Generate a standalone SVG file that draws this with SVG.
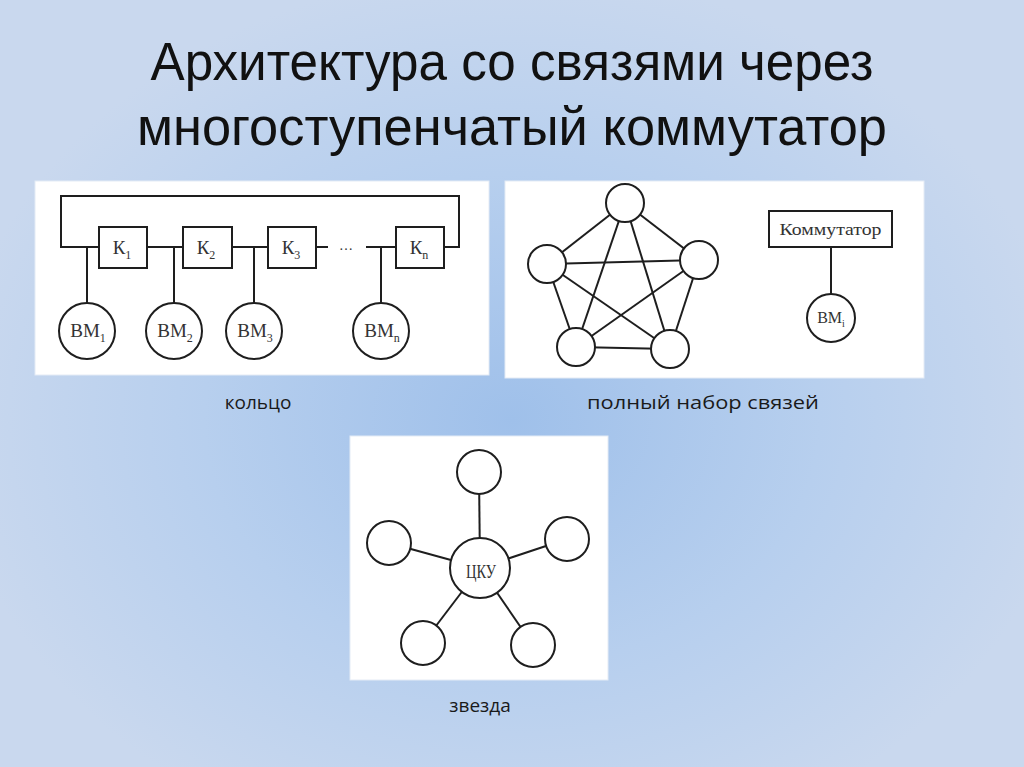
<svg xmlns="http://www.w3.org/2000/svg" width="1024" height="767" viewBox="0 0 1024 767">
<defs>
<radialGradient id="bg" cx="512" cy="420" r="560" gradientUnits="userSpaceOnUse" gradientTransform="translate(512 420) scale(1 0.8) translate(-512 -420)">
<stop offset="0" stop-color="#9fc0ea"/>
<stop offset="0.55" stop-color="#b7cfee"/>
<stop offset="1" stop-color="#c9d8ee"/>
</radialGradient>
<style>
.ln{stroke:#1e1e1e;stroke-width:2;fill:none}
.nd{stroke:#1e1e1e;stroke-width:2;fill:#ffffff}
.panel{fill:#ffffff;stroke:#e4ebf5;stroke-width:1}
.t{font-family:"Liberation Serif","DejaVu Serif",serif;fill:#333;text-anchor:middle}
.lab{font-family:"Open Sans","Noto Sans",sans-serif;font-size:19px;fill:#1a1a1a;text-anchor:middle}
.title{font-family:"Liberation Sans","Arial",sans-serif;font-size:53px;fill:#111;text-anchor:middle}
</style>
</defs>
<rect width="1024" height="767" fill="url(#bg)"/>

<g id="title">
<text class="title" x="512" y="80" textLength="723" lengthAdjust="spacingAndGlyphs">Архитектура со связями через</text>
<text class="title" x="512" y="145" textLength="750" lengthAdjust="spacingAndGlyphs">многоступенчатый коммутатор</text>
</g>

<rect class="panel" x="35" y="181" width="454" height="194"/>
<rect class="panel" x="505" y="181" width="419" height="197"/>
<rect class="panel" x="350" y="436" width="258" height="244"/>

<g id="connectors">
<!-- ring -->
<polyline class="ln" points="99,247 61,247 61,196 459,196 459,247 444,247"/>
<line class="ln" x1="147" y1="247" x2="183" y2="247"/>
<line class="ln" x1="232" y1="247" x2="268" y2="247"/>
<line class="ln" x1="316" y1="247" x2="328" y2="247"/>
<line class="ln" x1="366" y1="247" x2="396" y2="247"/>
<line class="ln" x1="87" y1="247" x2="87" y2="303"/>
<line class="ln" x1="174" y1="247" x2="174" y2="303"/>
<line class="ln" x1="254" y1="247" x2="254" y2="303"/>
<line class="ln" x1="381" y1="247" x2="381" y2="303"/>
<!-- mesh -->
<g class="ln">
<line x1="625" y1="203" x2="547" y2="264"/>
<line x1="625" y1="203" x2="699" y2="260"/>
<line x1="625" y1="203" x2="576" y2="347"/>
<line x1="625" y1="203" x2="670" y2="349"/>
<line x1="547" y1="264" x2="699" y2="260"/>
<line x1="547" y1="264" x2="576" y2="347"/>
<line x1="547" y1="264" x2="670" y2="349"/>
<line x1="699" y1="260" x2="576" y2="347"/>
<line x1="699" y1="260" x2="670" y2="349"/>
<line x1="576" y1="347" x2="670" y2="349"/>
</g>
<line class="ln" x1="831" y1="247" x2="831" y2="294"/>
<!-- star -->
<g class="ln">
<line x1="480" y1="568" x2="479" y2="472"/>
<line x1="480" y1="568" x2="389" y2="543"/>
<line x1="480" y1="568" x2="567" y2="539"/>
<line x1="480" y1="568" x2="423" y2="643"/>
<line x1="480" y1="568" x2="533" y2="645"/>
</g>
</g>

<g id="K1"><rect class="nd" x="99" y="227" width="48" height="41"/><text class="t" x="122" y="254" font-size="19">К<tspan font-size="12" dy="5">1</tspan></text></g>
<g id="K2"><rect class="nd" x="183" y="227" width="49" height="41"/><text class="t" x="206" y="254" font-size="19">К<tspan font-size="12" dy="5">2</tspan></text></g>
<g id="K3"><rect class="nd" x="268" y="227" width="48" height="41"/><text class="t" x="291" y="254" font-size="19">К<tspan font-size="12" dy="5">3</tspan></text></g>
<g id="dots"><text class="t" x="346" y="250" font-size="14">…</text></g>
<g id="Kn"><rect class="nd" x="396" y="227" width="48" height="41"/><text class="t" x="419" y="254" font-size="19">К<tspan font-size="12" dy="5">n</tspan></text></g>

<g id="BM1"><circle class="nd" cx="87" cy="331" r="28"/><text class="t" x="88" y="337" font-size="19">ВМ<tspan font-size="12" dy="5">1</tspan></text></g>
<g id="BM2"><circle class="nd" cx="174" cy="331" r="28"/><text class="t" x="175" y="337" font-size="19">ВМ<tspan font-size="12" dy="5">2</tspan></text></g>
<g id="BM3"><circle class="nd" cx="254" cy="331" r="28"/><text class="t" x="255" y="337" font-size="19">ВМ<tspan font-size="12" dy="5">3</tspan></text></g>
<g id="BMn"><circle class="nd" cx="381" cy="331" r="28"/><text class="t" x="382" y="337" font-size="19">ВМ<tspan font-size="12" dy="5">n</tspan></text></g>

<g id="mesh-top"><circle class="nd" cx="625" cy="203" r="19"/></g>
<g id="mesh-left"><circle class="nd" cx="547" cy="264" r="19"/></g>
<g id="mesh-right"><circle class="nd" cx="699" cy="260" r="19"/></g>
<g id="mesh-bl"><circle class="nd" cx="576" cy="347" r="19"/></g>
<g id="mesh-br"><circle class="nd" cx="670" cy="349" r="19"/></g>

<g id="switch"><rect class="nd" x="769" y="211" width="123" height="36"/><text class="t" x="830.5" y="235" font-size="17" textLength="102" lengthAdjust="spacingAndGlyphs">Коммутатор</text></g>
<g id="BMi"><circle class="nd" cx="831" cy="318" r="24"/><text class="t" x="831" y="323" font-size="16">ВМ<tspan font-size="10" dy="4">i</tspan></text></g>

<g id="CKU"><circle class="nd" cx="480" cy="568" r="30"/><text class="t" x="481" y="578" font-size="18" textLength="30" lengthAdjust="spacingAndGlyphs">ЦКУ</text></g>
<g id="star-top"><circle class="nd" cx="479" cy="472" r="22"/></g>
<g id="star-left"><circle class="nd" cx="389" cy="543" r="22"/></g>
<g id="star-right"><circle class="nd" cx="567" cy="539" r="22"/></g>
<g id="star-bl"><circle class="nd" cx="423" cy="643" r="22"/></g>
<g id="star-br"><circle class="nd" cx="533" cy="645" r="22"/></g>

<g id="labels">
<text class="lab" x="258" y="409">кольцо</text>
<text class="lab" x="703" y="409" textLength="232" lengthAdjust="spacingAndGlyphs">полный набор связей</text>
<text class="lab" x="480" y="712">звезда</text>
</g>
</svg>
